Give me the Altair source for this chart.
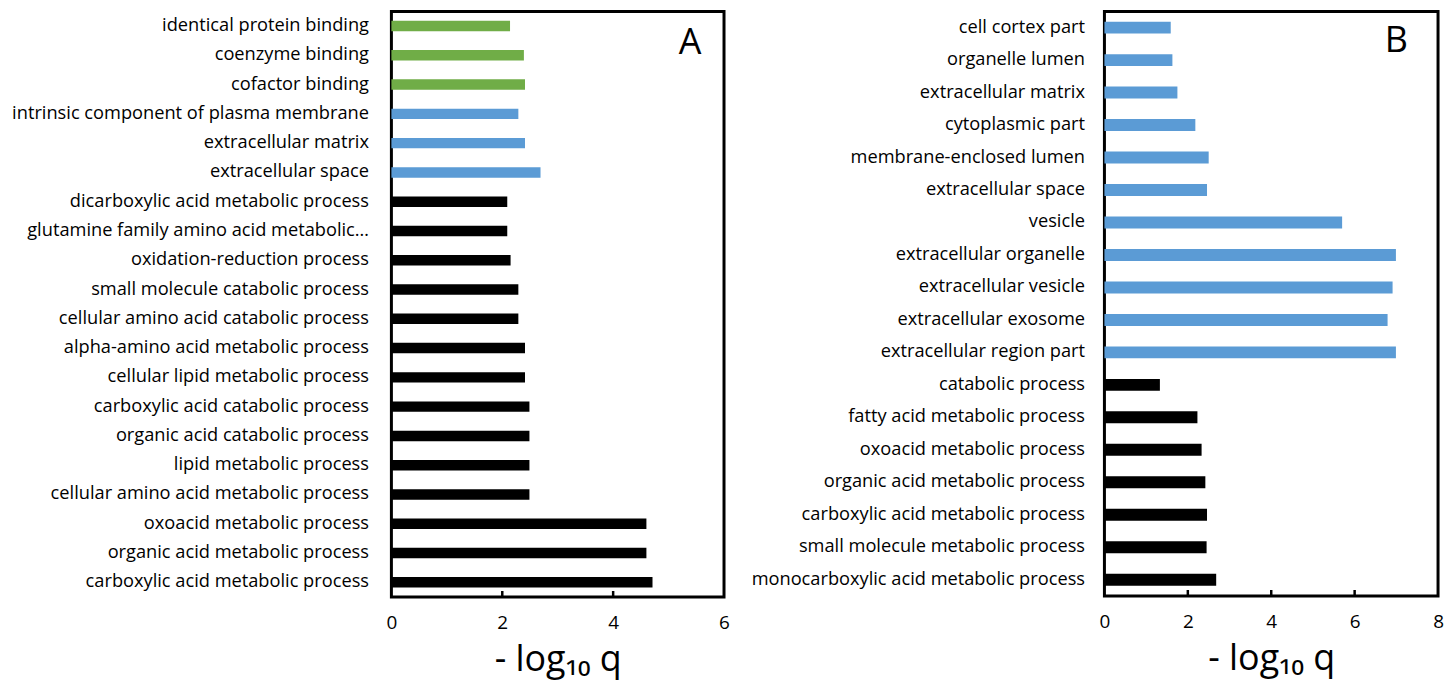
import altair as alt
import pandas as pd

cats_a = [
    "identical protein binding", "coenzyme binding", "cofactor binding",
    "intrinsic component of plasma membrane", "extracellular matrix", "extracellular space",
    "dicarboxylic acid metabolic process", "glutamine family amino acid metabolic…",
    "oxidation-reduction process", "small molecule catabolic process",
    "cellular amino acid catabolic process", "alpha-amino acid metabolic process",
    "cellular lipid metabolic process", "carboxylic acid catabolic process",
    "organic acid catabolic process", "lipid metabolic process",
    "cellular amino acid metabolic process", "oxoacid metabolic process",
    "organic acid metabolic process", "carboxylic acid metabolic process",
]
vals_a = [2.14, 2.39, 2.41, 2.29, 2.41, 2.69, 2.09, 2.09, 2.15, 2.29,
          2.29, 2.41, 2.41, 2.49, 2.49, 2.49, 2.49, 4.60, 4.60, 4.71]
groups_a = ["MF"] * 3 + ["CC"] * 3 + ["BP"] * 14

cats_b = [
    "cell cortex part", "organelle lumen", "extracellular matrix", "cytoplasmic part",
    "membrane-enclosed lumen", "extracellular space", "vesicle", "extracellular organelle",
    "extracellular vesicle", "extracellular exosome", "extracellular region part",
    "catabolic process", "fatty acid metabolic process", "oxoacid metabolic process",
    "organic acid metabolic process", "carboxylic acid metabolic process",
    "small molecule metabolic process", "monocarboxylic acid metabolic process",
]
vals_b = [1.59, 1.63, 1.75, 2.18, 2.50, 2.46, 5.70, 6.99, 6.91, 6.79, 6.99,
          1.33, 2.23, 2.33, 2.42, 2.46, 2.45, 2.68]
groups_b = ["CC"] * 11 + ["BP"] * 7

ticks_a = [2, 4]
ticks_b = [2, 4, 6]

group_domain = ["MF", "CC", "BP"]
group_colors = ["#70AD47", "#5B9BD5", "#000000"]

FONT = "Open Sans"
TITLE = "- log\u2081\u2080 q"


def panel(cats, vals, groups, ticks, xmax, letter, w, h, bar_size, extent, lpad, letter_xy):
    df = pd.DataFrame({"term": cats, "q": vals, "grp": groups})
    xscale = alt.Scale(domain=[0, xmax], nice=False, zero=True)
    bars = alt.Chart(df).mark_bar(size=bar_size).encode(
        x=alt.X("q:Q", scale=xscale,
                axis=alt.Axis(title=TITLE, values=list(range(0, xmax + 1, 2)), format="d",
                              ticks=False, domain=False, grid=False, labelPadding=17,
                              labelFlush=False, labelFontSize=19, labelFont=FONT,
                              labelColor="black", titleFont=FONT, titleFontSize=36,
                              titleFontWeight="normal", titleColor="black", titlePadding=10)),
        y=alt.Y("term:N", sort=cats,
                axis=alt.Axis(title=None, ticks=False, domain=False, labelPadding=lpad,
                              labelFontSize=18.3, labelFont=FONT, labelColor="black",
                              labelLimit=420, minExtent=extent, maxExtent=extent)),
        color=alt.Color("grp:N", scale=alt.Scale(domain=group_domain, range=group_colors),
                        legend=None),
    )
    tdf = pd.DataFrame({"t": ticks})
    tick_marks = alt.Chart(tdf).mark_rule(color="black", strokeWidth=2.5).encode(
        x=alt.X("t:Q", scale=xscale),
        y=alt.value(h - 6), y2=alt.value(h),
    )
    ldf = pd.DataFrame({"lab": [letter]})
    lab = alt.Chart(ldf).mark_text(font=FONT, fontSize=36, color="black",
                                   align="center", baseline="middle").encode(
        text="lab:N", x=alt.value(letter_xy[0]), y=alt.value(letter_xy[1]),
    )
    return alt.layer(bars, tick_marks, lab).properties(width=w, height=h)


pa = panel(cats_a, vals_a, groups_a, ticks_a, 6, "A", 334, 588, 10.5, 379, 23, (300, 32))
pb = panel(cats_b, vals_b, groups_b, ticks_b, 8, "B", 335, 587, 12, 354, 20, (293, 30))

chart = alt.hconcat(pa, pb, spacing=18).resolve_scale(
    x="independent", y="independent"
).properties(padding={"left": 2, "top": 0, "right": 2, "bottom": 0}).configure_view(
    stroke="black", strokeWidth=3
)

chart.save("out.html", embed_options={"renderer": "svg", "actions": False})
